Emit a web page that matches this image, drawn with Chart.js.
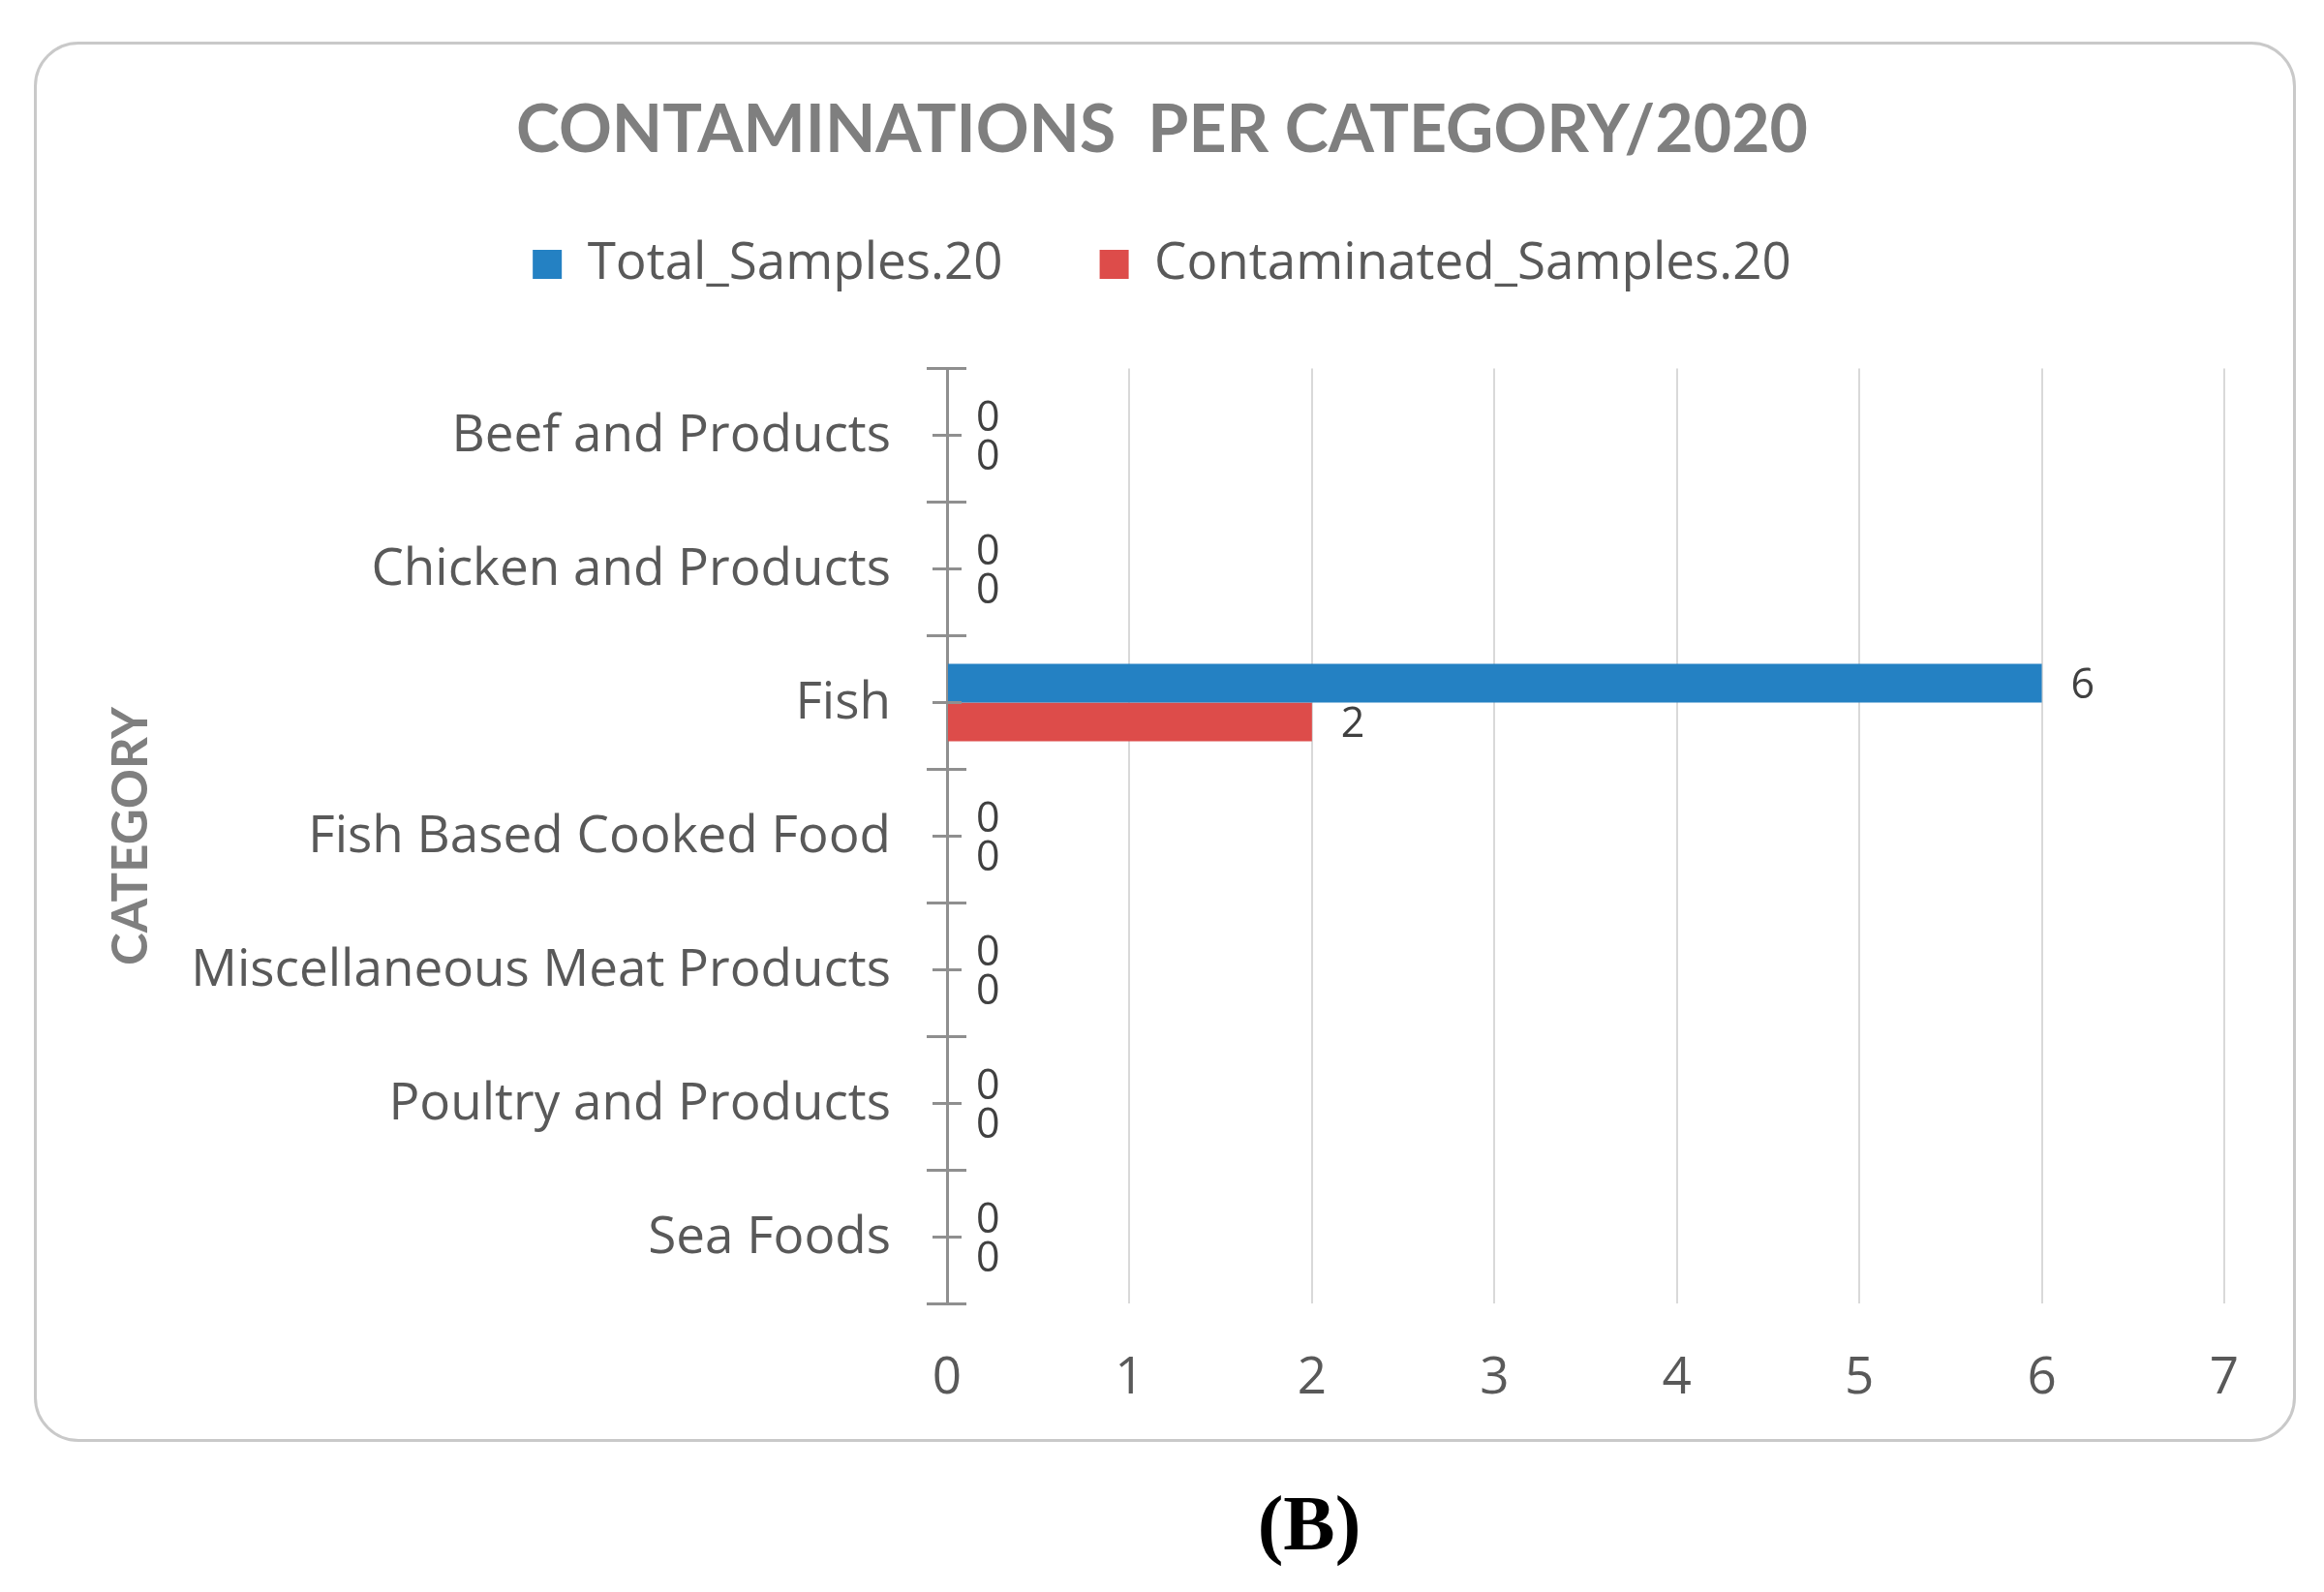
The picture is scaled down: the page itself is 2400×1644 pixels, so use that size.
<!DOCTYPE html>
<html>
<head>
<meta charset="utf-8">
<title>Contaminations per category 2020</title>
<script src="https://cdn.jsdelivr.net/npm/chart.js@4.4.1/dist/chart.umd.min.js"></script>
<style>
html, body { margin: 0; padding: 0; background: #fff; }
body { width: 2400px; height: 1644px; position: relative; overflow: hidden; }
#frame {
    position: absolute; left: 35px; top: 43px; width: 2336px; height: 1446px;
    box-sizing: border-box; border: 3px solid #c9c9c9; border-radius: 46px;
}
#chart { position: absolute; left: 0; top: 0; }
#panel {
    position: absolute; left: 1252px; top: 1533px; width: 200px; text-align: center;
    font: bold 80px/80px "Liberation Serif", "Times New Roman", serif; color: #000;
}
</style>
</head>
<body>
<div id="frame"></div>
<canvas id="chart" width="2400" height="1644"></canvas>
<div id="panel">(B)</div>
<script>
// datos
const categories = ['Beef and Products', 'Chicken and Products', 'Fish', 'Fish Based Cooked Food',
    'Miscellaneous Meat Products', 'Poultry and Products', 'Sea Foods'];
const totalSamples = [0, 0, 6, 0, 0, 0, 0];
const contaminatedSamples = [0, 0, 2, 0, 0, 0, 0];
const xTicks = [0, 1, 2, 3, 4, 5, 6, 7];

const FONT = '"Open Sans"';
const TITLE_FONT = 'Lato';

// espacio extra debajo de la leyenda
const legendGap = {
    id: 'legendGap',
    beforeInit(chart) {
        const fit = chart.legend.fit;
        chart.legend.fit = function () {
            fit.call(this);
            this.height += 71;
        };
    }
};

// etiquetas de valor al final de cada barra
const valueLabels = {
    id: 'valueLabels',
    afterDatasetsDraw(chart) {
        const ctx = chart.ctx;
        ctx.save();
        ctx.font = '43px ' + FONT;
        ctx.fillStyle = '#404040';
        ctx.textAlign = 'left';
        ctx.textBaseline = 'middle';
        chart.data.datasets.forEach((ds, i) => {
            chart.getDatasetMeta(i).data.forEach((bar, j) => {
                ctx.fillText(String(ds.data[j]), bar.x + 30, bar.y + 3);
            });
        });
        ctx.restore();
    }
};

// marcas que cruzan el eje de categorías
const categoryTicks = {
    id: 'categoryTicks',
    afterDraw(chart) {
        const ctx = chart.ctx;
        const y = chart.scales.y;
        const x0 = chart.scales.x.getPixelForValue(0);
        ctx.save();
        ctx.strokeStyle = '#8f8f8f';
        ctx.lineWidth = 3;
        ctx.beginPath();
        for (let i = 0; i <= categories.length; i++) {
            const yb = y.getPixelForValue(i - 0.5);
            ctx.moveTo(x0 - 21, yb);
            ctx.lineTo(x0 + 20, yb);
        }
        for (let i = 0; i < categories.length; i++) {
            const yc = y.getPixelForValue(i);
            ctx.moveTo(x0 - 15, yc);
            ctx.lineTo(x0 + 15, yc);
        }
        ctx.stroke();
        ctx.restore();
    }
};

new Chart(document.getElementById('chart'), {
    type: 'bar',
    data: {
        labels: categories,
        datasets: [{
            label: 'Total_Samples.20',
            data: totalSamples,
            backgroundColor: '#2481c3'
        }, {
            label: 'Contaminated_Samples.20',
            data: contaminatedSamples,
            backgroundColor: '#dd4c4a'
        }]
    },
    options: {
        indexAxis: 'y',
        responsive: false,
        devicePixelRatio: 1,
        animation: false,
        categoryPercentage: 0.58,
        barPercentage: 1.0,
        layout: { padding: { left: 103, right: 103, top: 0, bottom: 142 } },
        plugins: {
            title: {
                display: true,
                text: 'CONTAMINATIONS  PER CATEGORY/2020',
                color: '#7f7f7f',
                font: { family: TITLE_FONT, size: 68, weight: 'bold' },
                padding: { top: 94, bottom: -29 }
            },
            legend: {
                position: 'top',
                labels: {
                    color: '#595959',
                    font: { family: FONT, size: 53 },
                    boxWidth: 30,
                    boxHeight: 30,
                    padding: 100
                }
            },
            tooltip: { enabled: false }
        },
        scales: {
            x: {
                min: 0,
                max: 7,
                afterBuildTicks(scale) {
                    scale.ticks = xTicks.map(v => ({ value: v }));
                },
                grid: { color: '#d9d9d9', lineWidth: 2, drawTicks: false },
                border: { display: false },
                ticks: {
                    color: '#595959',
                    font: { family: FONT, size: 53 },
                    padding: 46
                }
            },
            y: {
                afterFit(scale) {
                    scale.width = 978 - 103;
                },
                grid: { display: false, drawTicks: false },
                border: { display: true, color: '#8f8f8f', width: 3 },
                title: {
                    display: true,
                    text: 'CATEGORY',
                    color: '#7f7f7f',
                    font: { family: TITLE_FONT, size: 51, weight: 'bold' },
                    padding: { top: 2, bottom: 0 }
                },
                ticks: {
                    color: '#595959',
                    font: { family: FONT, size: 53 },
                    padding: 58,
                    labelOffset: 1
                }
            }
        }
    },
    plugins: [legendGap, valueLabels, categoryTicks]
});
</script>
</body>
</html>
